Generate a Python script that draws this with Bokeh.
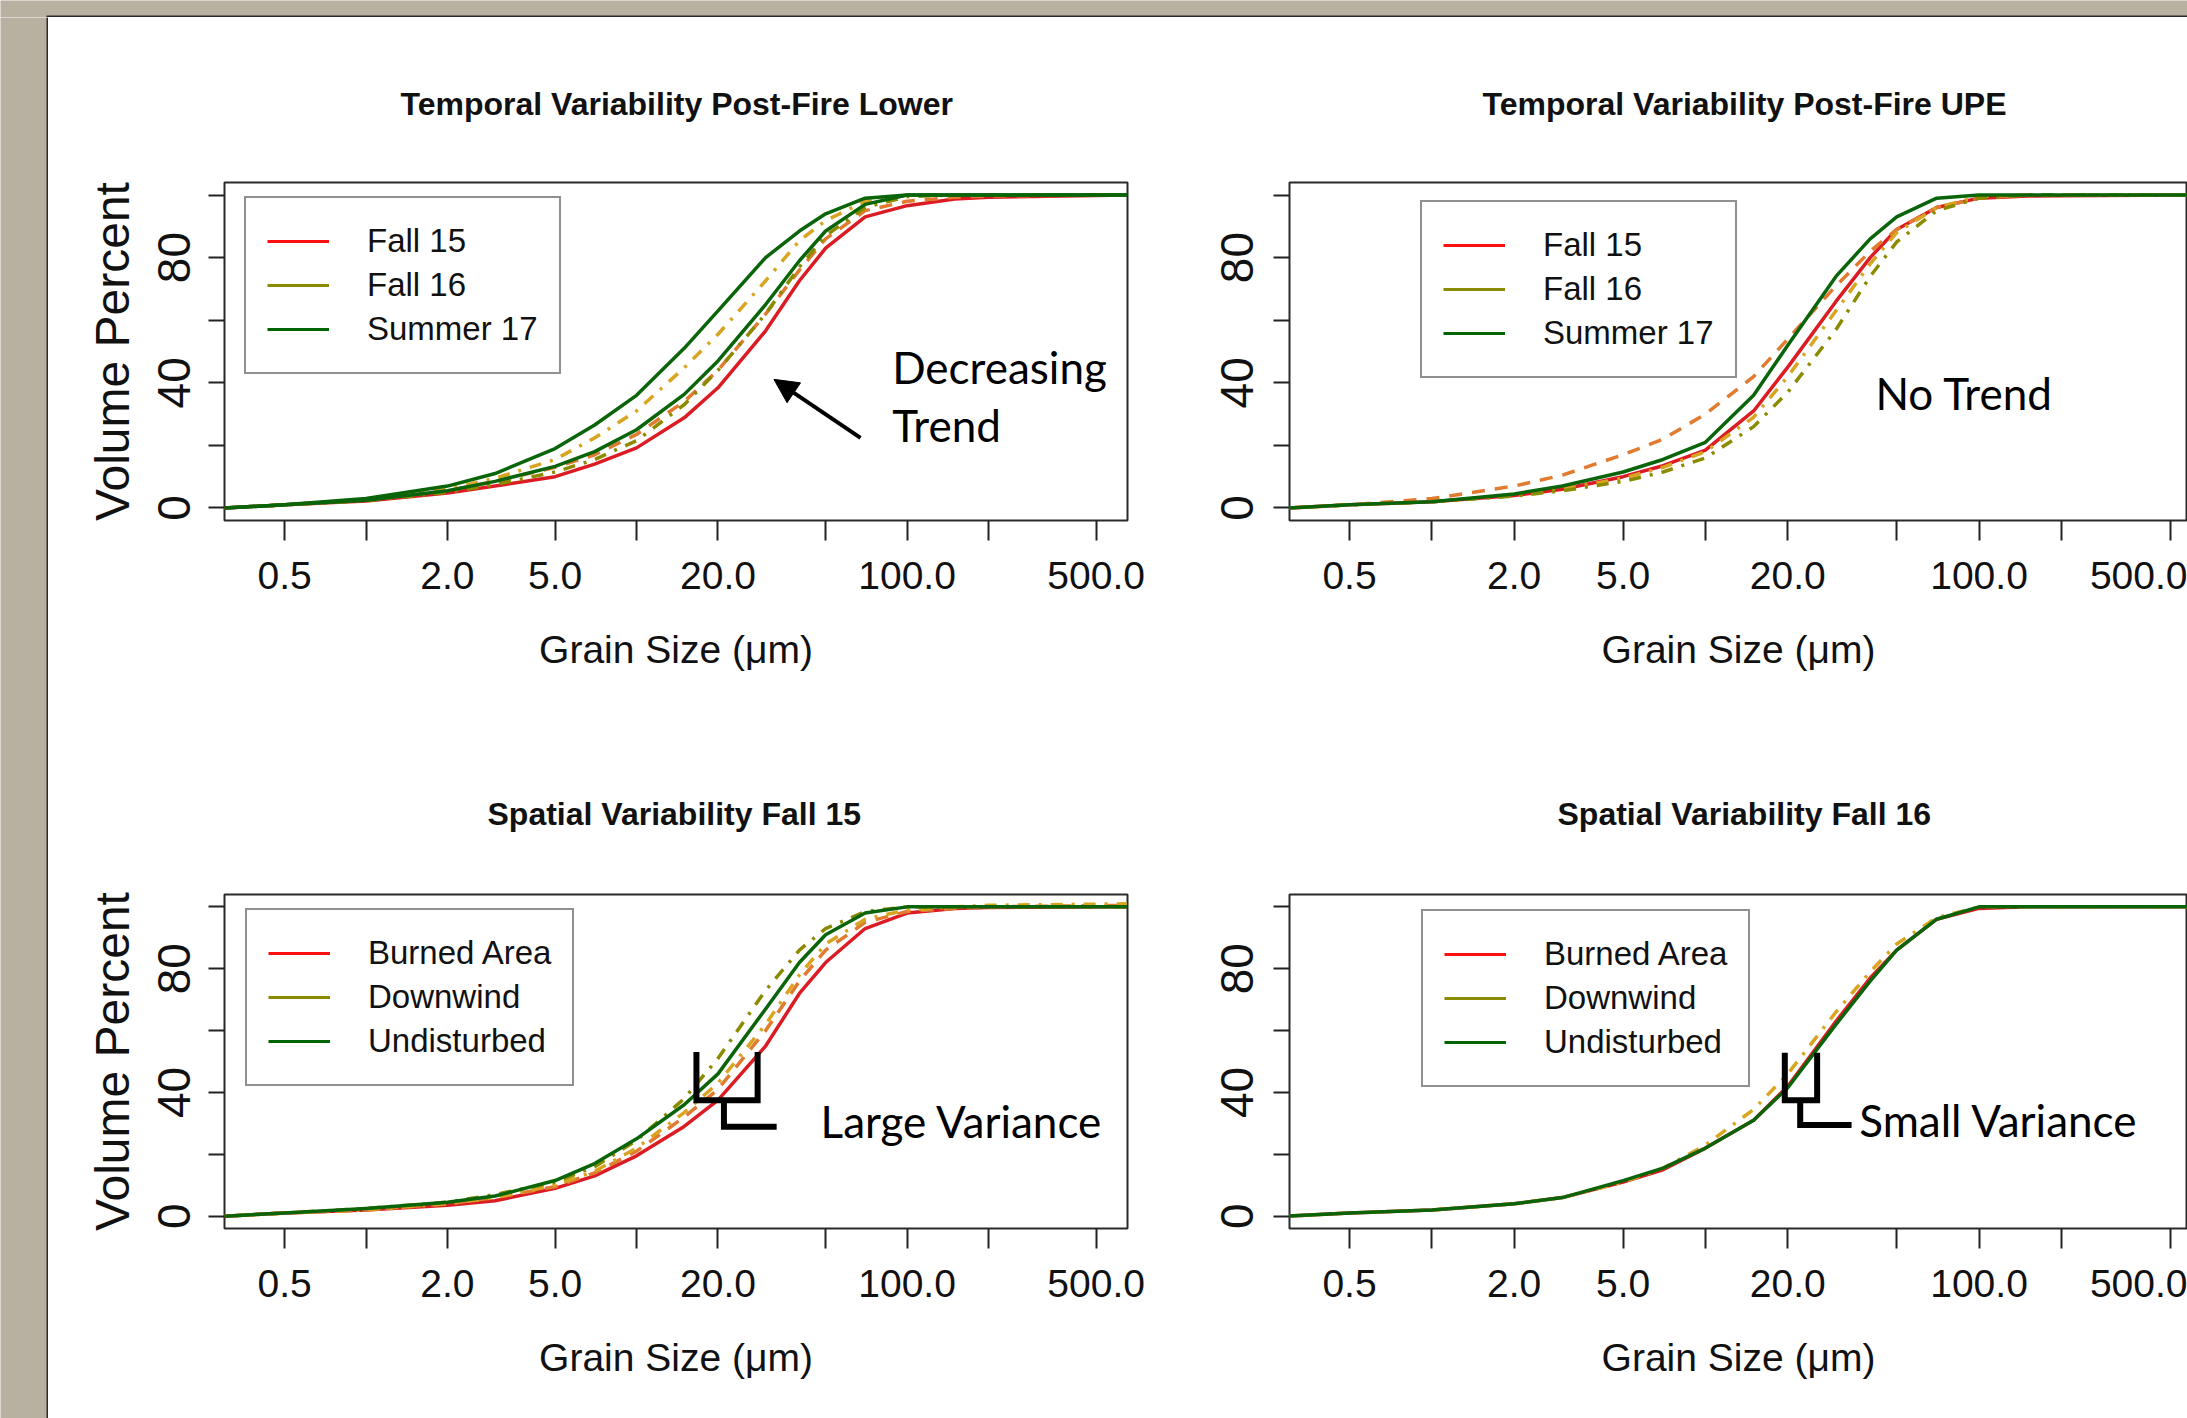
from bokeh.plotting import figure
from bokeh.models import (Range1d, FixedTicker, NumeralTickFormatter, Legend, LegendItem,
                          Label, Arrow, NormalHead, BoxAnnotation, ColumnDataSource)
from bokeh.layouts import column, row
from bokeh.embed import file_html
from bokeh.resources import INLINE

# ---------------- data ----------------
SIZES = [0.3, 0.5, 1, 2, 3, 5, 7, 10, 15, 20, 30, 40, 50, 70, 100, 150, 200, 650]

# Temporal Variability Post-Fire Lower
TL_F15_SOLID = [0, 1, 2.2, 4.8, 7, 10, 14, 19.2, 28.8, 38.4, 56.6, 72.6, 83, 93, 96.6, 98.7, 99.3, 100]
TL_F15_DASH = [0, 1, 2.5, 5.5, 8.5, 13, 17, 23.5, 34, 44, 62, 76, 86, 95, 98, 99.3, 99.7, 100]
TL_F16_GOLD = [0, 1, 2.8, 6, 9.5, 15.5, 22.4, 31, 44.8, 55.5, 72.6, 85.4, 91.8, 98, 100, 100, 100, 100]
TL_F16_OLIVE = [0, 1, 2.3, 5, 7.5, 11.5, 15.5, 21.5, 33, 44, 62, 77, 87, 96, 99.5, 100, 100, 100]
TL_S17_A = [0, 1, 3, 7, 11, 19, 26.5, 36, 51, 63, 80, 88.5, 94, 99, 100, 100, 100, 100]
TL_S17_B = [0, 1, 2.5, 5.5, 8.5, 13.3, 18, 25, 36.3, 47, 65, 79, 88.5, 97, 100, 100, 100, 100]

# Temporal Variability Post-Fire UPE
TR_F15_SOLID = [0, 1, 2, 4, 6, 10, 13.5, 18.5, 31, 45, 66, 80, 89, 96, 99, 99.7, 99.8, 100]
TR_F15_DASH = [0, 1, 3, 7, 10.5, 17, 22, 30, 42, 54, 71, 82, 89, 96, 99, 100, 100, 100]
TR_F16_GOLD = [0, 1, 2, 4, 6, 9.5, 13, 18, 29, 42, 63, 78, 88, 96, 99.5, 100, 100, 100]
TR_F16_OLIVE = [0, 1, 2, 3.8, 5.5, 8.5, 11.5, 16, 26, 37, 57, 74, 85, 95, 99, 100, 100, 100]
TR_S17 = [0, 1, 2, 4.5, 7, 11.5, 15.5, 21, 36, 52, 74, 86, 93, 99, 100, 100, 100, 100]

# Spatial Variability Fall 15
BL_BURN_SOLID = [0, 1, 2, 3.5, 5, 9, 13, 19.5, 29, 37.5, 55, 72, 82, 93, 98, 99.5, 99.8, 100]
BL_BURN_DASH = [0, 1, 2, 4, 6, 9.5, 14, 21, 32, 41, 60, 76, 86, 95, 98.5, 99.5, 100, 100.5]
BL_DOWN_GOLD = [0, 1, 2, 4, 6, 10, 14.5, 22, 33.5, 43, 62, 78, 88, 96, 99, 100, 100.5, 101]
BL_DOWN_OLIVE = [0, 1, 2.5, 4.5, 7, 11, 16, 24.5, 38, 51, 73, 86, 93, 98.5, 100, 100, 100, 100]
BL_UNDIST = [0, 1, 2.5, 4.5, 6.5, 11.5, 17, 25, 36, 46, 67, 82, 91, 98, 100, 100, 100, 100]

# Spatial Variability Fall 16
BR_BURN = [0, 1, 2, 4, 6, 11, 15, 22, 31, 42, 63, 77, 86, 96, 99.5, 100, 100, 100]
BR_DOWN = [0, 1, 2, 4, 6, 11, 15.5, 23, 34.5, 46, 66, 79, 88, 96.5, 100, 100, 100, 100]
BR_UNDIST = [0, 1, 2, 4, 6, 11.5, 15.5, 22, 31, 41.5, 62, 76, 86, 96, 100, 100, 100, 100]

TITLES = ["Temporal Variability Post-Fire Lower", "Temporal Variability Post-Fire UPE",
          "Spatial Variability Fall 15", "Spatial Variability Fall 16"]
TEMPORAL_LABELS = ["Fall 15", "Fall 16", "Summer 17"]
SPATIAL_LABELS = ["Burned Area", "Downwind", "Undisturbed"]
X_MAJOR = [0.5, 2, 5, 20, 100, 500]
X_MINOR = [1, 10, 50, 200]
Y_MAJOR = [0, 40, 80]
Y_MINOR = [20, 60, 100]
X_LABEL = "Grain Size (\u03bcm)"
Y_LABEL = "Volume Percent"

# annotation anchors (data coordinates)
TREND_TEXT = [("Decreasing", 88.1, 45.1), ("Trend", 88.1, 26.4)]
TREND_ARROW = (67.3, 22.4, 32.2, 41.1)
NOTREND_TEXT = ("No Trend", 41.8, 36.6)
LARGE_TEXT = ("Large Variance", 47.9, 30.9)
LARGE_U = ([16.65, 16.65, 28.03, 28.03], [53.1, 37.5, 37.5, 53.1])
LARGE_L = ([21.04, 21.04, 32.96], [37.5, 28.9, 28.9])
SMALL_TEXT = ("Small Variance", 36.5, 31.1)
SMALL_U = ([19.5, 19.5, 25.6, 25.6], [52.8, 37.5, 37.5, 52.8])
SMALL_L = ([22.2, 22.2, 34.2], [37.5, 29.5, 29.5])

# ---------------- styles ----------------
RED = "#dc1c24"
ORANGE = "#e07b30"
GOLD = "#d9a520"
OLIVE = "#8b8b00"
GREEN = "#0a640a"
LEG_COLORS = ["#ff1010", "#8b8b00", "#006400"]
TAN = "#b8b0a0"
FONT = "Liberation Sans"
NOTE_FONT = "Lato"
SOLID = "solid"
DASH = "13 10"
DOTDASH = "3 9 12 9"

W_TOTAL = 2187
H_TOTAL = 1418
TOP_H = 17
LEFT_W = 48
COL1_W = 1150
COL2_W = W_TOTAL - LEFT_W - COL1_W
ROW1_H = 703
ROW2_H = H_TOTAL - TOP_H - ROW1_H


def strip(width, height, box_kwargs):
    p = figure(width=width, height=height, toolbar_location=None, output_backend="svg",
               title=None, x_axis_location=None, y_axis_location=None,
               x_range=Range1d(0, 1), y_range=Range1d(0, 1),
               min_border=0, min_border_left=0, min_border_right=0,
               min_border_top=0, min_border_bottom=0)
    p.grid.visible = False
    p.background_fill_color = TAN
    p.border_fill_color = TAN
    p.outline_line_color = None
    p.add_layout(BoxAnnotation(fill_color="#2b2b2b", fill_alpha=1, line_color=None, **box_kwargs))
    return p


def panel(width, height, mbl, mbr, mbt, mbb, x_lo, x_hi, show_ylabel, ytick_standoff,
          curves, labels, legend_loc, title, title_offset, title_standoff):
    p = figure(width=width, height=height, x_axis_type="log",
               x_range=Range1d(x_lo, x_hi), y_range=Range1d(-4, 104),
               toolbar_location=None, output_backend="svg", title=title,
               min_border_left=mbl, min_border_right=mbr,
               min_border_top=mbt, min_border_bottom=mbb)
    p.grid.visible = False
    p.background_fill_color = "white"
    p.border_fill_color = "white"
    p.outline_line_color = "#2a2a2a"
    p.outline_line_width = 2

    p.title.align = "left"
    p.title.offset = title_offset
    p.title.standoff = title_standoff
    p.title.text_font = FONT
    p.title.text_font_style = "bold"
    p.title.text_font_size = "32px"
    p.title.text_color = "#111111"

    xa = p.xaxis[0]
    xa.ticker = FixedTicker(ticks=X_MAJOR, minor_ticks=X_MINOR)
    xa.formatter = NumeralTickFormatter(format="0.0")
    xa.axis_line_color = None
    xa.major_tick_in = 0
    xa.minor_tick_in = 0
    xa.major_tick_out = 20
    xa.minor_tick_out = 20
    xa.major_tick_line_width = 2
    xa.minor_tick_line_width = 2
    xa.major_tick_line_color = "#222222"
    xa.minor_tick_line_color = "#222222"
    xa.major_label_text_font = FONT
    xa.major_label_text_font_size = "39px"
    xa.major_label_text_color = "#111111"
    xa.major_label_standoff = 21
    xa.axis_label = X_LABEL
    xa.axis_label_text_font = FONT
    xa.axis_label_text_font_style = "normal"
    xa.axis_label_text_font_size = "39px"
    xa.axis_label_text_color = "#111111"
    xa.axis_label_standoff = 36

    ya = p.yaxis[0]
    ya.ticker = FixedTicker(ticks=Y_MAJOR, minor_ticks=Y_MINOR)
    ya.axis_line_color = None
    ya.major_tick_in = 0
    ya.minor_tick_in = 0
    ya.major_tick_out = 16
    ya.minor_tick_out = 16
    ya.major_tick_line_width = 2
    ya.minor_tick_line_width = 2
    ya.major_tick_line_color = "#222222"
    ya.minor_tick_line_color = "#222222"
    ya.major_label_orientation = "vertical"
    ya.major_label_text_font = FONT
    ya.major_label_text_font_size = "46px"
    ya.major_label_text_color = "#111111"
    ya.major_label_standoff = ytick_standoff
    if show_ylabel:
        ya.axis_label = Y_LABEL
        ya.axis_label_text_font = FONT
        ya.axis_label_text_font_style = "normal"
        ya.axis_label_text_font_size = "48px"
        ya.axis_label_text_color = "#111111"
        ya.axis_label_standoff = 17

    for vals, color, dash in curves:
        src = ColumnDataSource(dict(size=SIZES, pct=vals))
        p.line("size", "pct", source=src, line_color=color, line_width=3.5,
               line_dash=dash, line_join="round")

    # legend-only renderers (solid key lines), hidden from the plot area
    items = []
    for lab, col in zip(labels, LEG_COLORS):
        src = ColumnDataSource(dict(size=SIZES, pct=curves[0][0]))
        r = p.line("size", "pct", source=src, line_color=col, line_width=3, visible=False)
        items.append(LegendItem(label=lab, renderers=[r]))
    leg = Legend(items=items, location=legend_loc, padding=21, spacing=0,
                 glyph_width=62, glyph_height=44, label_height=44, label_standoff=38,
                 label_text_font=FONT, label_text_font_size="33px",
                 label_text_color="#111111", border_line_color="#222222",
                 border_line_width=2, background_fill_color="white",
                 background_fill_alpha=1.0, margin=0,
                 inactive_fill_alpha=0.0)
    p.add_layout(leg)
    return p


def note(p, txt, x, y):
    p.add_layout(Label(x=x, y=y, text=txt, text_align="left", text_baseline="alphabetic",
                       text_font=NOTE_FONT, text_font_size="44px", text_color="black"))


tl = panel(COL1_W, ROW1_H, 176, 71, 165, 200, 0.2998, 653.0, True, 18,
           [(TL_F15_SOLID, RED, SOLID), (TL_F15_DASH, ORANGE, DASH),
            (TL_F16_GOLD, GOLD, DOTDASH), (TL_F16_OLIVE, OLIVE, DOTDASH),
            (TL_S17_B, GREEN, SOLID), (TL_S17_A, GREEN, SOLID)],
           TEMPORAL_LABELS, (20, 146), TITLES[0], 176, 122)
for txt, x, y in TREND_TEXT:
    note(tl, txt, x, y)
tl.add_layout(Arrow(end=NormalHead(size=24, fill_color="black", line_color="black", line_width=1),
                    x_start=TREND_ARROW[0], y_start=TREND_ARROW[1],
                    x_end=TREND_ARROW[2], y_end=TREND_ARROW[3],
                    line_width=4, line_color="black"))

tr = panel(COL2_W, ROW1_H, 91, 0, 165, 200, 0.3018, 578.0, False, 20,
           [(TR_F15_SOLID, RED, SOLID), (TR_F15_DASH, ORANGE, DASH),
            (TR_F16_GOLD, GOLD, DOTDASH), (TR_F16_OLIVE, OLIVE, DOTDASH),
            (TR_S17, GREEN, SOLID)],
           TEMPORAL_LABELS, (131, 142), TITLES[1], 193, 122)
note(tr, *NOTREND_TEXT)

bl = panel(COL1_W, ROW2_H, 176, 71, 174, 190, 0.2998, 653.0, True, 18,
           [(BL_BURN_SOLID, RED, SOLID), (BL_BURN_DASH, ORANGE, DASH),
            (BL_DOWN_GOLD, GOLD, DOTDASH), (BL_DOWN_OLIVE, OLIVE, DOTDASH),
            (BL_UNDIST, GREEN, SOLID)],
           SPATIAL_LABELS, (21, 142), TITLES[2], 263, 126)
note(bl, *LARGE_TEXT)
bl.line(LARGE_U[0], LARGE_U[1], line_color="black", line_width=6, line_join="miter")
bl.line(LARGE_L[0], LARGE_L[1], line_color="black", line_width=6, line_join="miter")

br = panel(COL2_W, ROW2_H, 91, 0, 174, 190, 0.3018, 578.0, False, 20,
           [(BR_BURN, RED, SOLID), (BR_DOWN, GOLD, DOTDASH), (BR_UNDIST, GREEN, SOLID)],
           SPATIAL_LABELS, (132, 141), TITLES[3], 268, 126)
note(br, *SMALL_TEXT)
br.line(SMALL_U[0], SMALL_U[1], line_color="black", line_width=6, line_join="miter")
br.line(SMALL_L[0], SMALL_L[1], line_color="black", line_width=6, line_join="miter")

top = strip(W_TOTAL, TOP_H, dict(left=LEFT_W - 2, left_units="screen",
                                 bottom=0, top=2, bottom_units="screen", top_units="screen"))
left = strip(LEFT_W, H_TOTAL - TOP_H, dict(left=LEFT_W - 2, right=LEFT_W,
                                           left_units="screen", right_units="screen"))

layout = column(top, row(left, column(row(tl, tr), row(bl, br))))

open("out.html", "w").write(file_html(layout, INLINE))
